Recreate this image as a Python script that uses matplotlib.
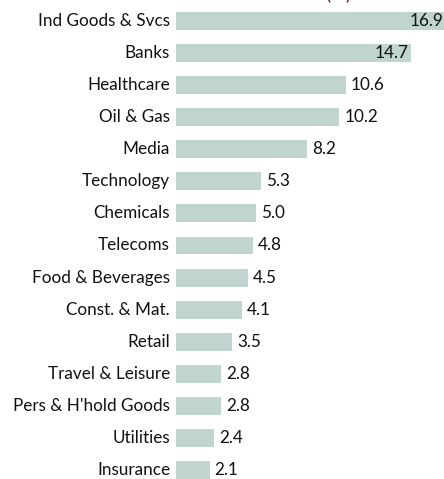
import matplotlib

matplotlib.use("Agg")
import matplotlib.pyplot as plt

# sector weights (%)
sectors = [
    "Ind Goods & Svcs", "Banks", "Healthcare", "Oil & Gas", "Media",
    "Technology", "Chemicals", "Telecoms", "Food & Beverages", "Const. & Mat.",
    "Retail", "Travel & Leisure", "Pers & H'hold Goods", "Utilities", "Insurance",
]
weights = [16.9, 14.7, 10.6, 10.2, 8.2, 5.3, 5.0, 4.8, 4.5, 4.1, 3.5, 2.8, 2.8, 2.4, 2.1]
value_labels = ["16.9", "14.7", "10.6", "10.2", "8.2", "5.3", "5.0", "4.8", "4.5",
                "4.1", "3.5", "2.8", "2.8", "2.4", "2.1"]

BAR_COLOR = "#c1d5d0"
FONT = "Lato"
FS = 12.3

W, H = 444, 479
fig = plt.figure(figsize=(W / 100, H / 100), dpi=100)
left_px = 176
ax = fig.add_axes([left_px / W, 0.0, (W - left_px) / W, 1.0])

pitch = 32.07
top_center = 21
ypos = list(range(len(sectors)))
ax.barh(ypos, weights, height=0.56, color=BAR_COLOR, edgecolor="none")
ax.set_xlim(0, (W - left_px) / 16.0)
ax.set_ylim((H - top_center) / pitch, -top_center / pitch)

for i, (name, v, lab) in enumerate(zip(sectors, weights, value_labels)):
    ax.annotate(name, xy=(0, i), xytext=(-6, 0), textcoords="offset pixels",
                ha="right", va="center", fontsize=FS, family=FONT,
                color="#111111", annotation_clip=False)
    if v > 12:
        # 長いバーは内側に右寄せ
        ax.annotate(lab, xy=(v, i), xytext=(-3, 0), textcoords="offset pixels",
                    ha="right", va="center", fontsize=FS, family=FONT,
                    color="#111111", annotation_clip=False)
    else:
        ax.annotate(lab, xy=(v, i), xytext=(5, 0), textcoords="offset pixels",
                    ha="left", va="center", fontsize=FS, family=FONT,
                    color="#111111", annotation_clip=False)

ax.axis("off")

# cut-off unit label at top (only its lower edge shows, as in the source)
fig.text(338 / W, 1.0 + 7 / H, "(%)", ha="center", va="center", fontsize=14,
         family=FONT, color="#7a1f3d")

fig.savefig("out.png", dpi=100)
